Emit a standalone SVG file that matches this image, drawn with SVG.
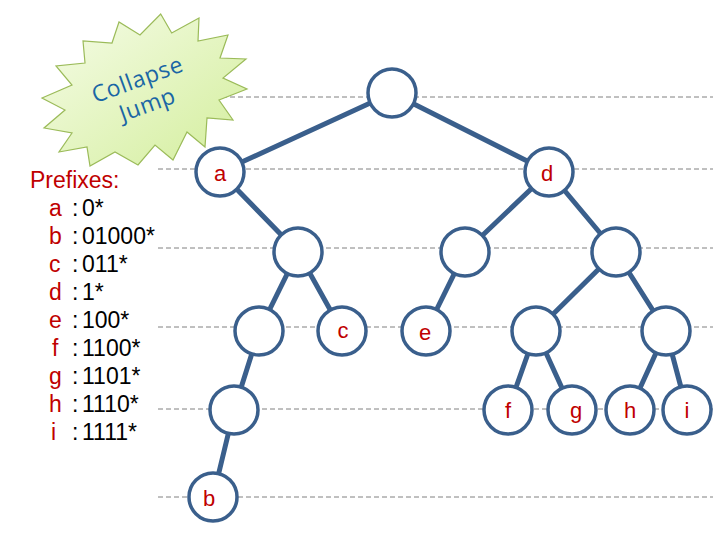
<svg xmlns="http://www.w3.org/2000/svg" width="720" height="540" viewBox="0 0 720 540">
<style>
.grid line{stroke:#808080;stroke-width:1;stroke-dasharray:5 3;}
.edges line{stroke:#3A5F8C;stroke-width:5;stroke-linecap:round;}
.node circle{fill:#FFFFFF;stroke:#3A5F8C;stroke-width:3.5;}
.node text{font-family:"Liberation Sans",Arial,sans-serif;font-size:22px;fill:#C00000;text-anchor:middle;}
.pref{font-family:"Liberation Sans",Arial,sans-serif;font-size:23px;fill:#000000;}
.red{fill:#C00000;}
.burst-text{font-family:"Open Sans","DejaVu Sans",sans-serif;font-size:23px;fill:#1A66A5;text-anchor:middle;letter-spacing:0.6px;}
</style>
<defs>
<linearGradient id="bg" x1="0" y1="0" x2="1" y2="1">
<stop offset="0" stop-color="#F6FCE8"/>
<stop offset="1" stop-color="#D3EE9C"/>
</linearGradient>
</defs>
<rect width="720" height="540" fill="#FFFFFF"/>
<g class="grid">
<line x1="158" y1="97" x2="713" y2="97"/>
<line x1="158" y1="169" x2="713" y2="169"/>
<line x1="158" y1="248" x2="713" y2="248"/>
<line x1="158" y1="327" x2="713" y2="327"/>
<line x1="158" y1="409" x2="713" y2="409"/>
<line x1="158" y1="497" x2="713" y2="497"/>
</g>
<g id="burst">
<polygon points="160.7,14 171.7,33 199,18 198,41 228,35 220,58 246,59 223,78 247,89 219,100 233,120 207,118 205,147 187,132 173,160 155,145 138,165 115,152 90,166 87,147 59,152 72,133 44,128 65,110 42,98 72,85 56,66 85,63 83,41 112,43 119,22 140,35" fill="url(#bg)" stroke="#9BBB59" stroke-width="1.2" stroke-linejoin="miter"/>
<text class="burst-text" x="140" y="87" transform="rotate(-20 140 87)">Collapse</text>
<text class="burst-text" x="150" y="112" transform="rotate(-20 150 112)">Jump</text>
</g>
<g id="prefixes" class="pref">
<text x="30" y="188" class="red">Prefixes:</text>
<text y="216"><tspan x="49" class="red">a</tspan><tspan x="72">:</tspan><tspan x="82">0*</tspan></text>
<text y="244"><tspan x="49" class="red">b</tspan><tspan x="72">:</tspan><tspan x="82">01000*</tspan></text>
<text y="272"><tspan x="49" class="red">c</tspan><tspan x="72">:</tspan><tspan x="82">011*</tspan></text>
<text y="300"><tspan x="49" class="red">d</tspan><tspan x="72">:</tspan><tspan x="82">1*</tspan></text>
<text y="328"><tspan x="49" class="red">e</tspan><tspan x="72">:</tspan><tspan x="82">100*</tspan></text>
<text y="356"><tspan x="52" class="red">f</tspan><tspan x="72">:</tspan><tspan x="82">1100*</tspan></text>
<text y="384"><tspan x="49" class="red">g</tspan><tspan x="72">:</tspan><tspan x="82">1101*</tspan></text>
<text y="412"><tspan x="49" class="red">h</tspan><tspan x="72">:</tspan><tspan x="82">1110*</tspan></text>
<text y="440"><tspan x="51" class="red">i</tspan><tspan x="72">:</tspan><tspan x="82">1111*</tspan></text>
</g>
<g id="connectors" class="edges">
<line x1="392" y1="93" x2="220" y2="172"/>
<line x1="392" y1="93" x2="549" y2="172"/>
<line x1="220" y1="172" x2="298" y2="252"/>
<line x1="549" y1="172" x2="465" y2="252"/>
<line x1="549" y1="172" x2="616" y2="252"/>
<line x1="298" y1="252" x2="259" y2="331"/>
<line x1="298" y1="252" x2="342" y2="331"/>
<line x1="465" y1="252" x2="426" y2="331"/>
<line x1="616" y1="252" x2="536" y2="331"/>
<line x1="616" y1="252" x2="666" y2="331"/>
<line x1="259" y1="331" x2="234" y2="410"/>
<line x1="234" y1="410" x2="213" y2="497"/>
<line x1="536" y1="331" x2="508" y2="410"/>
<line x1="536" y1="331" x2="572" y2="410"/>
<line x1="666" y1="331" x2="630" y2="410"/>
<line x1="666" y1="331" x2="687" y2="410"/>
</g>
<g id="root" class="node"><circle cx="392" cy="93" r="24"/></g>
<g id="node-a" class="node"><circle cx="220" cy="172" r="24"/><text x="220" y="181">a</text></g>
<g id="node-d" class="node"><circle cx="549" cy="172" r="24"/><text x="547" y="181">d</text></g>
<g id="node-00" class="node"><circle cx="298" cy="252" r="24"/></g>
<g id="node-10" class="node"><circle cx="465" cy="252" r="24"/></g>
<g id="node-11" class="node"><circle cx="616" cy="252" r="24"/></g>
<g id="node-010" class="node"><circle cx="259" cy="331" r="24"/></g>
<g id="node-c" class="node"><circle cx="342" cy="331" r="24"/><text x="343" y="338">c</text></g>
<g id="node-e" class="node"><circle cx="426" cy="331" r="24"/><text x="425" y="340">e</text></g>
<g id="node-110" class="node"><circle cx="536" cy="331" r="24"/></g>
<g id="node-111" class="node"><circle cx="666" cy="331" r="24"/></g>
<g id="node-0100" class="node"><circle cx="234" cy="410" r="24"/></g>
<g id="node-f" class="node"><circle cx="508" cy="410" r="24"/><text x="508" y="418">f</text></g>
<g id="node-g" class="node"><circle cx="572" cy="410" r="24"/><text x="576" y="418">g</text></g>
<g id="node-h" class="node"><circle cx="630" cy="410" r="24"/><text x="630" y="418">h</text></g>
<g id="node-i" class="node"><circle cx="687" cy="410" r="24"/><text x="687" y="418">i</text></g>
<g id="node-b" class="node"><circle cx="213" cy="497" r="24"/><text x="209" y="506">b</text></g>
</svg>
